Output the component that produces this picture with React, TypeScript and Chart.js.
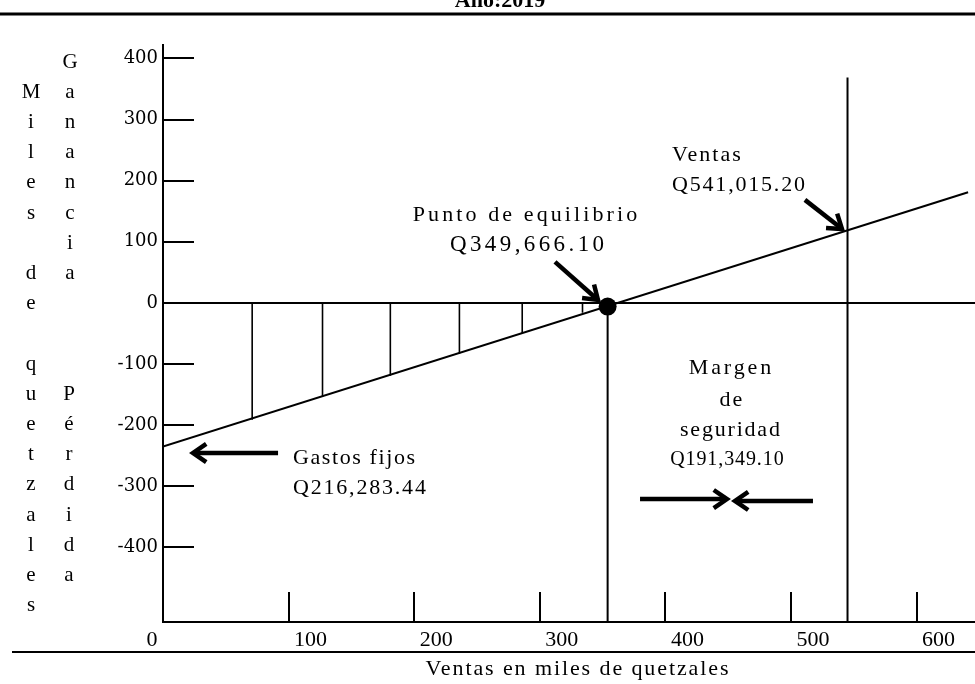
import React, { useEffect, useRef } from "react";
import { Chart, registerables } from "chart.js";

Chart.register(...registerables);

// ---------- data (thousands of quetzales) ----------
const X_MIN = 0;
const X_MAX = 646.5;
const Y_MIN = -522;
const Y_MAX = 422;
const X_TICKS = [0, 100, 200, 300, 400, 500, 600];
const Y_TICKS = [400, 300, 200, 100, 0, -100, -200, -300, -400];

// result line (ganancia / pérdida)
const RESULT_X = [0, 641];
const RESULT_Y = [-235, 181];

// hatch lines in the loss triangle
const HATCH_X = [71, 127, 181, 236, 286, 334];
const HATCH_Y = [-191, -154, -119, -83, -49, -16];

// break-even point and sales level
const BREAKEVEN_X = 354;
const BREAKEVEN_Y = -6;
const SALES_X = 545;
const SALES_TOP = 369;

// texts
const TITLE = "Año:2019";
const X_TITLE = "Ventas en miles de quetzales";
const Y_TITLE = "Miles de quetzales";
const GAIN = "Ganancia";
const LOSS = "Pérdida";

const SERIF = '"Liberation Serif", "Times New Roman", serif';

function drawText(ctx: CanvasRenderingContext2D, s: string, x: number, y: number, size: number, spacing: number, align: "left" | "center", bold = false) {
  ctx.font = `${bold ? "bold " : ""}${size}px ${SERIF}`;
  (ctx as any).letterSpacing = `${spacing}px`;
  ctx.textAlign = "left";
  ctx.textBaseline = "middle";
  const w = ctx.measureText(s).width - spacing;
  const lx = align === "center" ? x - w / 2 : x;
  ctx.fillText(s, lx, y);
  (ctx as any).letterSpacing = "0px";
}

function drawArrow(ctx: CanvasRenderingContext2D, x1: number, y1: number, x2: number, y2: number) {
  const a = Math.atan2(y2 - y1, x2 - x1);
  const hl = 16;
  const ha = 0.6;
  ctx.lineWidth = 4.5;
  ctx.lineCap = "butt";
  ctx.lineJoin = "miter";
  ctx.beginPath();
  ctx.moveTo(x1, y1);
  ctx.lineTo(x2 - Math.cos(a) * 3, y2 - Math.sin(a) * 3);
  ctx.stroke();
  ctx.beginPath();
  ctx.moveTo(x2 - hl * Math.cos(a - ha), y2 - hl * Math.sin(a - ha));
  ctx.lineTo(x2, y2);
  ctx.lineTo(x2 - hl * Math.cos(a + ha), y2 - hl * Math.sin(a + ha));
  ctx.stroke();
}

const decoPlugin = {
  id: "deco",
  afterDraw(chart: any) {
    const { ctx, chartArea: ca } = chart;
    const xs = chart.scales.x;
    const ys = chart.scales.y;
    const px = (v: number) => xs.getPixelForValue(v);
    const py = (v: number) => ys.getPixelForValue(v);
    ctx.save();
    ctx.strokeStyle = "#000";
    ctx.fillStyle = "#000";

    // inward tick marks
    ctx.lineWidth = 2;
    Y_TICKS.forEach((v) => {
      if (v === 0) return;
      const yy = Math.round(py(v));
      ctx.beginPath();
      ctx.moveTo(ca.left, yy);
      ctx.lineTo(ca.left + 31, yy);
      ctx.stroke();
    });
    X_TICKS.forEach((v) => {
      if (v === 0) return;
      const xx = Math.round(px(v));
      ctx.beginPath();
      ctx.moveTo(xx, ca.bottom);
      ctx.lineTo(xx, ca.bottom - 30);
      ctx.stroke();
    });

    // "0" label of the x axis (sits left of its tick in the original)
    drawText(ctx, "0", px(0) - 11, ca.bottom + 18, 22, 0, "center");

    // frame lines of the page
    ctx.lineWidth = 3;
    ctx.beginPath();
    ctx.moveTo(0, 14);
    ctx.lineTo(chart.width, 14);
    ctx.stroke();
    ctx.lineWidth = 2;
    ctx.beginPath();
    ctx.moveTo(12, ca.bottom + 30);
    ctx.lineTo(chart.width, ca.bottom + 30);
    ctx.stroke();

    // cut-off title and axis title
    ctx.font = `bold 22px ${SERIF}`;
    ctx.textAlign = "center";
    ctx.textBaseline = "alphabetic";
    ctx.fillText(TITLE, 500, 7);
    drawText(ctx, X_TITLE, 577, ca.bottom + 47, 22, 1.9, "center");

    // vertical letter titles
    const rowY = (i: number) => 62 + 30.2 * i;
    Y_TITLE.split("").forEach((ch, i) => {
      if (ch !== " ") drawText(ctx, ch, 31, rowY(i + 1), 21, 0, "center");
    });
    GAIN.split("").forEach((ch, i) => drawText(ctx, ch, 70, rowY(i), 21, 0, "center"));
    LOSS.split("").forEach((ch, i) => drawText(ctx, ch, 69, rowY(i + 11), 21, 0, "center"));

    // annotations (anchored in data units)
    drawText(ctx, "Punto de equilibrio", px(288.2), py(144), 22, 3.1, "center");
    drawText(ctx, "Q349,666.10", px(289.8), py(94.9), 23, 3.4, "center");
    drawText(ctx, "Ventas", px(405.3), py(242.2), 22, 2, "left");
    drawText(ctx, "Q541,015.20", px(405.3), py(193.1), 22, 1.8, "left");
    drawText(ctx, "Gastos fijos", px(103.5), py(-253.7), 22, 1.6, "left");
    drawText(ctx, "Q216,283.44", px(103.5), py(-302.8), 22, 1.8, "left");
    drawText(ctx, "Margen", px(451.4), py(-106.4), 22, 2.9, "center");
    drawText(ctx, "de", px(452.2), py(-158.8), 22, 2, "center");
    drawText(ctx, "seguridad", px(451.4), py(-207.9), 22, 1.8, "center");
    drawText(ctx, "Q191,349.10", px(449), py(-257), 20, 0.9, "center");

    drawArrow(ctx, px(312.1), py(67.1), px(346.3), py(4.9));
    drawArrow(ctx, px(511.1), py(168.6), px(540.6), py(121.1));
    drawArrow(ctx, px(91.6), py(-245.5), px(23.9), py(-245.5));
    drawArrow(ctx, px(379.8), py(-320.8), px(449), py(-320.8));
    drawArrow(ctx, px(517.5), py(-324), px(455.4), py(-324));

    ctx.restore();
  },
};

const segment = (pts: { x: number; y: number }[], width: number) => ({
  data: pts,
  showLine: true,
  borderColor: "#000",
  backgroundColor: "#000",
  borderWidth: width,
  pointRadius: 0,
  fill: false,
});

export default function App() {
  const ref = useRef<HTMLCanvasElement>(null);
  useEffect(() => {
    document.body.style.margin = "0";
    document.body.style.background = "#fff";
    document.documentElement.style.overflow = "hidden";
    const canvas = ref.current!;
    const datasets: any[] = [
      segment([{ x: X_MIN, y: 0 }, { x: X_MAX, y: 0 }], 2),
      segment(RESULT_X.map((x, i) => ({ x, y: RESULT_Y[i] })), 2),
      ...HATCH_X.map((x, i) => segment([{ x, y: 0 }, { x, y: HATCH_Y[i] }], 1.6)),
      segment([{ x: BREAKEVEN_X, y: BREAKEVEN_Y }, { x: BREAKEVEN_X, y: Y_MIN }], 2),
      segment([{ x: SALES_X, y: SALES_TOP }, { x: SALES_X, y: Y_MIN }], 2),
      {
        data: [{ x: BREAKEVEN_X, y: BREAKEVEN_Y }],
        showLine: false,
        pointRadius: 9,
        pointBackgroundColor: "#000",
        pointBorderColor: "#000",
        pointBorderWidth: 0,
      },
    ];
    const chart = new Chart(canvas, {
      type: "scatter",
      data: { datasets },
      options: {
        responsive: false,
        animation: false,
        devicePixelRatio: 1,
        events: [],
        layout: { autoPadding: false, padding: { top: 45, left: 0, right: 0, bottom: 0 } },
        plugins: { legend: { display: false }, tooltip: { enabled: false }, title: { display: false } },
        scales: {
          x: {
            type: "linear",
            min: X_MIN,
            max: X_MAX,
            afterFit: (s: any) => { s.height = 62; s.paddingLeft = 0; s.paddingRight = 0; },
            afterBuildTicks: (s: any) => { s.ticks = X_TICKS.map((v) => ({ value: v })); },
            ticks: {
              color: "#000",
              font: { family: SERIF, size: 22 },
              padding: 5,
              labelOffset: 22,
              maxRotation: 0,
              autoSkip: false,
              callback: (v: any) => (v === 0 ? "" : String(v)),
            },
            grid: { display: false, drawTicks: false },
            border: { display: true, color: "#000", width: 2 },
          },
          y: {
            type: "linear",
            min: Y_MIN,
            max: Y_MAX,
            afterFit: (s: any) => { s.width = 163; s.paddingTop = 0; s.paddingBottom = 0; },
            afterBuildTicks: (s: any) => { s.ticks = Y_TICKS.map((v) => ({ value: v })); },
            ticks: {
              color: "#000",
              font: { family: '"DejaVu Serif", serif', size: 18 },
              padding: 5,
              autoSkip: false,
              callback: (v: any) => String(v),
            },
            grid: { display: false, drawTicks: false },
            border: { display: true, color: "#000", width: 2 },
          },
        },
      },
      plugins: [decoPlugin],
    });
    return () => chart.destroy();
  }, []);
  return <canvas ref={ref} width={975} height={684} style={{ display: "block" }} />;
}
